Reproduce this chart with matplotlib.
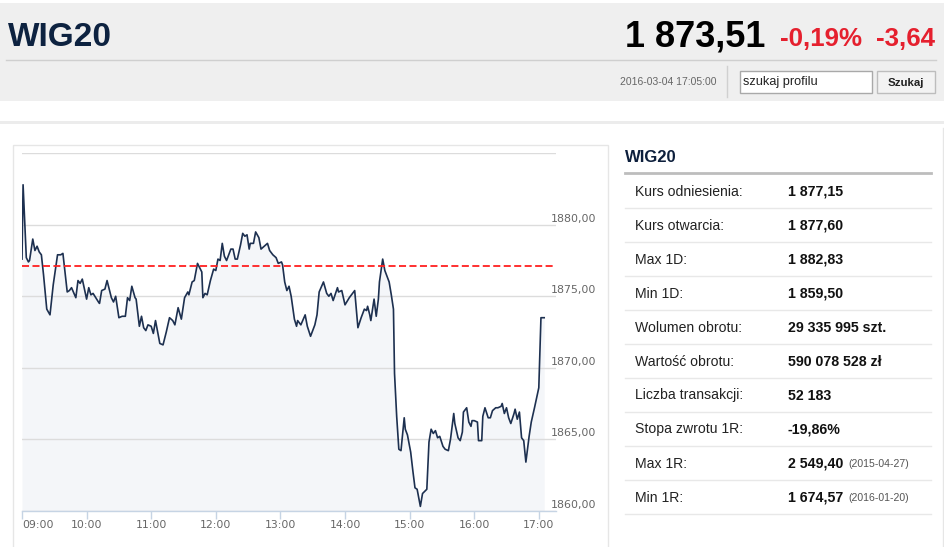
import matplotlib
matplotlib.use("Agg")
import matplotlib.pyplot as plt
import matplotlib.patches as patches
import matplotlib.transforms as mtransforms

# WIG20 intraday quotes, minutes after 09:00
minutes = [0, 1, 4, 6, 7, 10, 12, 14, 16, 18, 20, 23, 26, 29, 33, 36, 38, 42, 44, 46,
           50, 52, 54, 56, 60, 62, 64, 66, 71, 72, 74, 77, 79, 83, 85, 87, 90, 93, 96, 98,
           100, 102, 105, 106, 109, 111, 113, 115, 117, 120, 122, 124, 126, 128, 131, 134,
           137, 140, 142, 145, 148, 151, 154, 155, 158, 160, 163, 165, 167, 168, 170, 172,
           175, 178, 180, 182, 184, 186, 188, 190, 194, 196, 198, 200, 203, 205, 207, 209,
           211, 212, 215, 217, 220, 222, 225, 228, 230, 233, 236, 238, 241, 242, 244, 246,
           248, 250, 253, 255, 256, 259, 263, 265, 268, 272, 274, 276, 280, 283, 285, 287,
           289, 293, 294, 297, 300, 304, 307, 309, 312, 315, 318, 320, 321, 323, 324, 327,
           329, 331, 332, 335, 337, 341, 343, 345, 346, 348, 350, 352, 355, 356, 358, 361,
           363, 365, 367, 370, 372, 376, 378, 380, 382, 384, 386, 388, 391, 393, 396, 398,
           401, 402, 405, 407, 409, 410, 413, 415, 417, 418, 420, 423, 424, 427, 428, 430,
           433, 435, 437, 440, 442, 445, 446, 448, 450, 452, 454, 457, 458, 460, 462, 464,
           466, 468, 471, 473, 476, 480, 482, 485]
prices = [1877.6, 1882.8, 1877.7, 1877.4, 1877.5, 1879.0, 1878.2, 1878.5, 1878.1, 1877.9,
          1876.5, 1874.1, 1873.7, 1875.8, 1877.9, 1877.9, 1878.0, 1875.3, 1875.4, 1875.6,
          1874.9, 1876.1, 1875.9, 1876.2, 1874.8, 1875.6, 1875.1, 1875.2, 1874.6, 1874.5,
          1875.4, 1875.5, 1876.1, 1874.9, 1874.6, 1875.0, 1873.5, 1873.6, 1873.6, 1874.9,
          1874.7, 1875.7, 1874.9, 1874.8, 1872.9, 1873.6, 1872.8, 1872.6, 1873.0, 1872.9,
          1872.4, 1873.3, 1872.5, 1871.7, 1871.6, 1872.5, 1873.5, 1873.3, 1873.0, 1874.2,
          1873.4, 1874.9, 1875.3, 1875.1, 1876.0, 1876.1, 1877.3, 1877.0, 1876.7, 1874.9,
          1875.2, 1875.1, 1876.1, 1876.9, 1876.8, 1877.6, 1877.5, 1878.7, 1877.8, 1877.5,
          1878.3, 1878.3, 1877.6, 1877.6, 1878.6, 1879.4, 1879.2, 1879.3, 1878.3, 1878.7,
          1878.7, 1879.5, 1879.1, 1878.3, 1878.5, 1878.7, 1878.2, 1877.9, 1877.7, 1877.3,
          1877.4, 1877.2, 1876.0, 1875.4, 1875.7, 1875.0, 1873.4, 1872.9, 1873.3, 1873.0,
          1873.7, 1872.9, 1872.2, 1873.0, 1873.7, 1875.3, 1876.0, 1875.2, 1875.0, 1875.2,
          1874.7, 1875.6, 1875.3, 1875.4, 1874.4, 1874.9, 1875.2, 1875.4, 1872.8, 1873.5,
          1874.1, 1874.0, 1874.3, 1873.7, 1873.3, 1874.8, 1873.6, 1874.8, 1876.0, 1877.6,
          1876.8, 1876.0, 1875.1, 1874.1, 1869.6, 1866.6, 1864.3, 1864.2, 1866.5, 1865.7,
          1865.3, 1864.1, 1862.8, 1861.6, 1861.5, 1860.3, 1861.2, 1861.5, 1864.8, 1865.7,
          1865.4, 1865.6, 1865.1, 1865.2, 1864.5, 1864.3, 1864.2, 1865.0, 1866.8, 1866.1,
          1865.1, 1864.9, 1865.5, 1866.9, 1867.2, 1866.2, 1865.9, 1866.3, 1866.3, 1866.2,
          1864.9, 1864.9, 1866.6, 1867.2, 1866.5, 1866.5, 1867.0, 1867.2, 1867.2, 1867.3,
          1867.5, 1866.8, 1867.2, 1866.5, 1866.1, 1866.8, 1867.1, 1866.4, 1866.9, 1865.1,
          1864.9, 1863.4, 1865.2, 1866.2, 1867.2, 1868.6, 1873.5, 1873.5]

ref_price = 1877.15
hour_ticks = [0, 60, 120, 180, 240, 300, 360, 420, 480]
hour_labels = ["09:00", "10:00", "11:00", "12:00", "13:00", "14:00", "15:00", "16:00", "17:00"]
price_ticks = [1860, 1865, 1870, 1875, 1880]

index_name = "WIG20"
last_price = "1 873,51"
change_pct = "-0,19%"
change_abs = "-3,64"
timestamp = "2016-03-04 17:05:00"

row_labels = ["Kurs odniesienia:", "Kurs otwarcia:", "Max 1D:", "Min 1D:", "Wolumen obrotu:",
              "Wartość obrotu:", "Liczba transakcji:", "Stopa zwrotu 1R:", "Max 1R:", "Min 1R:"]
row_values = ["1 877,15", "1 877,60", "1 882,83", "1 859,50", "29 335 995 szt.",
              "590 078 528 zł", "52 183", "-19,86%", "2 549,40", "1 674,57"]
row_dates = ["", "", "", "", "", "", "", "", "(2015-04-27)", "(2016-01-20)"]

plt.rcParams["font.family"] = ["Liberation Sans", "DejaVu Sans"]

W, H = 945, 547
fig = plt.figure(figsize=(W / 100, H / 100), dpi=100)

# page layer in pixel coordinates
page = fig.add_axes([0, 0, 1, 1])
page.set_xlim(0, W)
page.set_ylim(H, 0)
page.axis("off")

# header
page.add_patch(patches.Rectangle((0, 3), W, 98, fc="#efefef", ec="none"))
page.plot([6, 936], [59.5, 59.5], color="#cfcfcf", lw=1)
page.add_patch(patches.Rectangle((0, 120.5), W, 3.5, fc="#ececec", ec="none"))

page.text(8, 46, index_name, fontsize=24, fontweight="bold", color="#0d2240", va="baseline")
page.text(765, 46, last_price, fontsize=26, fontweight="bold", color="#000000",
          ha="right", va="baseline")
page.text(780, 46, change_pct, fontsize=18.6, fontweight="bold", color="#e5202e", va="baseline")
page.text(935, 46, change_abs, fontsize=18.6, fontweight="bold", color="#e5202e",
          ha="right", va="baseline")

page.text(717, 82, timestamp, fontsize=7.5, color="#666666", ha="right", va="center")
page.plot([727, 727], [66, 97], color="#d0d0d0", lw=1)
page.add_patch(patches.Rectangle((739.5, 70.5), 132, 22, fc="white", ec="#a9a9a9", lw=1))
page.text(743, 81.5, "szukaj profilu", fontsize=9.2, color="#222222", va="center")
page.add_patch(patches.Rectangle((876.5, 70.5), 58, 22, fc="#f3f3f3", ec="#bdbdbd", lw=1))
page.text(905.5, 82.5, "Szukaj", fontsize=8.2, fontweight="bold", color="#222222",
          ha="center", va="center")

# chart frame
page.add_patch(patches.Rectangle((12.5, 144.5), 595.5, 420, fc="none", ec="#e6e6e6", lw=1))
page.plot([943, 943], [128, H], color="#e6e6e6", lw=1)

# quote table
page.text(625, 157, index_name, fontsize=12, fontweight="bold", color="#0d1f3c", va="center")
page.plot([625, 931], [172.7, 172.7], color="#bdbdbd", lw=2)
for i, (lab, val, dt) in enumerate(zip(row_labels, row_values, row_dates)):
    yc = 191.5 + 34.0 * i
    page.text(635, yc, lab, fontsize=10.1, color="#222222", va="center")
    vt = page.text(788, yc, val, fontsize=10.2, fontweight="bold", color="#111111", va="center")
    if dt:
        page.annotate(dt, xy=(1, 0), xycoords=vt, xytext=(3.6, 0.8), textcoords="offset points",
                      fontsize=7.6, color="#555555", va="bottom")
    page.plot([625, 931], [yc + 16.2, yc + 16.2], color="#e8e8e8", lw=1)

# price chart
x0, x1, y_top, y_bot = 22, 555.7, 153.3, 510.7
px_per_hour = 64.6
ax = fig.add_axes([x0 / W, (H - y_bot) / H, (x1 - x0) / W, (y_bot - y_top) / H])
ax.patch.set_alpha(0)
ax.set_xlim(0, (x1 - x0) * 60 / px_per_hour)
ax.set_ylim(1860, 1885)

ax.fill_between(minutes, prices, 1860, color="#f4f6f9", lw=0, zorder=1)
ax.plot(minutes, prices, color="#1d3050", lw=1.2, zorder=3)
ax.axhline(ref_price, color="#ff2020", lw=1.3, ls=(0, (3.9, 1.9)), zorder=4)

ax.set_yticks(price_ticks + [1885])
ax.yaxis.grid(True, color="#dcdcdc", lw=1)
ax.tick_params(axis="y", length=0, labelleft=False)

ax.set_xticks(hour_ticks)
ax.set_xticklabels(hour_labels)
ax.tick_params(axis="x", direction="out", length=5.8, width=1, color="#c6d4e4",
               labelcolor="#666666", labelsize=7.8, pad=1.2)
for lbl in ax.get_xticklabels():
    lbl.set_family("DejaVu Sans")
ax.get_xticklabels()[0].set_ha("left")

for side in ["top", "left", "right"]:
    ax.spines[side].set_visible(False)
ax.spines["bottom"].set_color("#c6d4e4")
ax.spines["bottom"].set_linewidth(1)

trans = mtransforms.blended_transform_factory(ax.transAxes, ax.transData)
for v in price_ticks:
    ax.text(0.9915, v + 0.42, f"{v:.2f}".replace(".", ","), transform=trans,
            fontsize=7.9, color="#666666", family="DejaVu Sans", va="center", clip_on=False)

fig.savefig("out.png", dpi=100)
